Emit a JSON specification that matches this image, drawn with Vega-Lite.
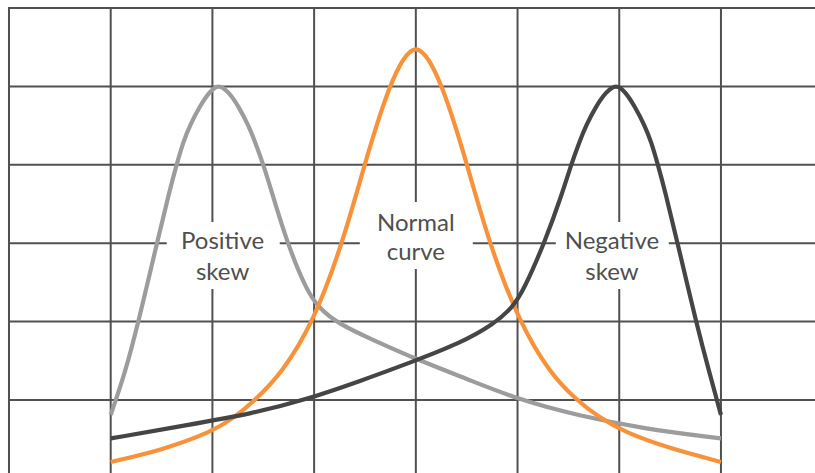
{
  "$schema": "https://vega.github.io/schema/vega-lite/v6.json",
  "autosize": {"type": "fit", "contains": "padding"},
  "width": 815,
  "height": 473,
  "padding": 0,
  "background": "white",
  "config": {"view": {"stroke": null}},
  "datasets": {
    "vgrid": [{"gx": -1}, {"gx": 0}, {"gx": 1}, {"gx": 2}, {"gx": 3}, {"gx": 4}, {"gx": 5}, {"gx": 6}],
    "hgrid": [{"gy": 0}, {"gy": 1}, {"gy": 2}, {"gy": 3}, {"gy": 4}, {"gy": 5}],
    "boxes": [
      {"label": "Positive skew", "x1": 0.551, "x2": 1.662, "y1": 2.27, "y2": 1.416},
      {"label": "Normal curve", "x1": 2.449, "x2": 3.56, "y1": 2.526, "y2": 1.671},
      {"label": "Negative skew", "x1": 4.376, "x2": 5.487, "y1": 2.27, "y2": 1.416}
    ],
    "curves": [
      {"series": "Positive skew", "x": 0.0, "y": -0.19},
      {"series": "Positive skew", "x": 0.14, "y": 0.34},
      {"series": "Positive skew", "x": 0.27, "y": 0.98},
      {"series": "Positive skew", "x": 0.458, "y": 2.02},
      {"series": "Positive skew", "x": 0.576, "y": 2.657},
      {"series": "Positive skew", "x": 0.649, "y": 3.006},
      {"series": "Positive skew", "x": 0.714, "y": 3.295},
      {"series": "Positive skew", "x": 0.78, "y": 3.508},
      {"series": "Positive skew", "x": 0.878, "y": 3.75},
      {"series": "Positive skew", "x": 0.97, "y": 3.93},
      {"series": "Positive skew", "x": 1.06, "y": 4.03},
      {"series": "Positive skew", "x": 1.16, "y": 3.93},
      {"series": "Positive skew", "x": 1.255, "y": 3.75},
      {"series": "Positive skew", "x": 1.353, "y": 3.508},
      {"series": "Positive skew", "x": 1.419, "y": 3.295},
      {"series": "Positive skew", "x": 1.5, "y": 3.006},
      {"series": "Positive skew", "x": 1.583, "y": 2.657},
      {"series": "Positive skew", "x": 1.73, "y": 2.02},
      {"series": "Positive skew", "x": 1.93, "y": 1.38},
      {"series": "Positive skew", "x": 2.06, "y": 1.16},
      {"series": "Positive skew", "x": 2.23, "y": 0.98},
      {"series": "Positive skew", "x": 2.57, "y": 0.77},
      {"series": "Positive skew", "x": 3.06, "y": 0.49},
      {"series": "Positive skew", "x": 3.5, "y": 0.27},
      {"series": "Positive skew", "x": 4.02, "y": 0.0},
      {"series": "Positive skew", "x": 4.6, "y": -0.2},
      {"series": "Positive skew", "x": 5.25, "y": -0.37},
      {"series": "Positive skew", "x": 6.0, "y": -0.49},
      {"series": "Normal curve", "x": 0.0, "y": -0.79},
      {"series": "Normal curve", "x": 0.5, "y": -0.64},
      {"series": "Normal curve", "x": 0.99, "y": -0.41},
      {"series": "Normal curve", "x": 1.22, "y": -0.22},
      {"series": "Normal curve", "x": 1.42, "y": 0.0},
      {"series": "Normal curve", "x": 1.68, "y": 0.34},
      {"series": "Normal curve", "x": 1.99, "y": 0.98},
      {"series": "Normal curve", "x": 2.28, "y": 2.0},
      {"series": "Normal curve", "x": 2.5, "y": 3.02},
      {"series": "Normal curve", "x": 2.62, "y": 3.53},
      {"series": "Normal curve", "x": 2.74, "y": 3.99},
      {"series": "Normal curve", "x": 2.87, "y": 4.36},
      {"series": "Normal curve", "x": 3.0, "y": 4.53},
      {"series": "Normal curve", "x": 3.13, "y": 4.36},
      {"series": "Normal curve", "x": 3.26, "y": 3.99},
      {"series": "Normal curve", "x": 3.38, "y": 3.53},
      {"series": "Normal curve", "x": 3.5, "y": 3.02},
      {"series": "Normal curve", "x": 3.72, "y": 2.0},
      {"series": "Normal curve", "x": 4.02, "y": 0.98},
      {"series": "Normal curve", "x": 4.32, "y": 0.34},
      {"series": "Normal curve", "x": 4.58, "y": 0.0},
      {"series": "Normal curve", "x": 4.8, "y": -0.22},
      {"series": "Normal curve", "x": 5.05, "y": -0.41},
      {"series": "Normal curve", "x": 5.5, "y": -0.62},
      {"series": "Normal curve", "x": 6.0, "y": -0.79},
      {"series": "Negative skew", "x": 0.0, "y": -0.49},
      {"series": "Negative skew", "x": 0.75, "y": -0.32},
      {"series": "Negative skew", "x": 1.4, "y": -0.17},
      {"series": "Negative skew", "x": 1.91, "y": 0.0},
      {"series": "Negative skew", "x": 2.45, "y": 0.24},
      {"series": "Negative skew", "x": 2.95, "y": 0.48},
      {"series": "Negative skew", "x": 3.43, "y": 0.72},
      {"series": "Negative skew", "x": 3.77, "y": 0.97},
      {"series": "Negative skew", "x": 3.95, "y": 1.18},
      {"series": "Negative skew", "x": 4.06, "y": 1.4},
      {"series": "Negative skew", "x": 4.27, "y": 2.02},
      {"series": "Negative skew", "x": 4.445, "y": 2.657},
      {"series": "Negative skew", "x": 4.528, "y": 3.006},
      {"series": "Negative skew", "x": 4.609, "y": 3.295},
      {"series": "Negative skew", "x": 4.675, "y": 3.508},
      {"series": "Negative skew", "x": 4.773, "y": 3.75},
      {"series": "Negative skew", "x": 4.87, "y": 3.93},
      {"series": "Negative skew", "x": 4.97, "y": 4.03},
      {"series": "Negative skew", "x": 5.06, "y": 3.93},
      {"series": "Negative skew", "x": 5.15, "y": 3.75},
      {"series": "Negative skew", "x": 5.248, "y": 3.508},
      {"series": "Negative skew", "x": 5.314, "y": 3.295},
      {"series": "Negative skew", "x": 5.379, "y": 3.006},
      {"series": "Negative skew", "x": 5.452, "y": 2.657},
      {"series": "Negative skew", "x": 5.57, "y": 2.02},
      {"series": "Negative skew", "x": 5.758, "y": 0.98},
      {"series": "Negative skew", "x": 5.888, "y": 0.34},
      {"series": "Negative skew", "x": 6.0, "y": -0.19}
    ],
    "labels": [
      {"text": "Positive", "x": 1.1, "y": 1.92},
      {"text": "skew", "x": 1.1, "y": 1.537},
      {"text": "Normal", "x": 3.0, "y": 2.159},
      {"text": "curve", "x": 3.0, "y": 1.792},
      {"text": "Negative", "x": 4.928, "y": 1.92},
      {"text": "skew", "x": 4.928, "y": 1.537}
    ]
  },
  "layer": [
    {
      "data": {"name": "vgrid"},
      "mark": {"type": "rule", "color": "#505050", "strokeWidth": 2, "strokeCap": "square", "clip": true},
      "encoding": {
        "x": {"field": "gx", "type": "quantitative", "scale": {"domain": [-1.0884, 6.9246], "nice": false, "zero": false}, "axis": null},
        "y": {"datum": 5, "type": "quantitative", "scale": {"domain": [-0.931, 5.102], "nice": false, "zero": false}, "axis": null},
        "y2": {"datum": -2}
      }
    },
    {
      "data": {"name": "hgrid"},
      "mark": {"type": "rule", "color": "#505050", "strokeWidth": 2, "strokeCap": "square", "clip": true},
      "encoding": {
        "y": {"field": "gy", "type": "quantitative"},
        "x": {"datum": -1, "type": "quantitative"},
        "x2": {"datum": 8}
      }
    },
    {
      "data": {"name": "boxes"},
      "mark": {"type": "rect", "color": "white"},
      "encoding": {
        "x": {"field": "x1", "type": "quantitative"},
        "x2": {"field": "x2"},
        "y": {"field": "y1", "type": "quantitative"},
        "y2": {"field": "y2"}
      }
    },
    {
      "data": {"name": "curves"},
      "mark": {"type": "line", "interpolate": "basis", "strokeWidth": 4.2, "strokeCap": "butt", "strokeJoin": "round"},
      "encoding": {
        "x": {"field": "x", "type": "quantitative"},
        "y": {"field": "y", "type": "quantitative"},
        "color": {
          "field": "series",
          "type": "nominal",
          "scale": {"domain": ["Positive skew", "Normal curve", "Negative skew"], "range": ["#9c9c9c", "#f7923a", "#454545"]},
          "legend": null
        }
      }
    },
    {
      "data": {"name": "labels"},
      "mark": {"type": "text", "font": "Lato", "fontSize": 24, "color": "#4f4f4f", "align": "center", "baseline": "alphabetic"},
      "encoding": {
        "x": {"field": "x", "type": "quantitative"},
        "y": {"field": "y", "type": "quantitative"},
        "text": {"field": "text"}
      }
    }
  ]
}
